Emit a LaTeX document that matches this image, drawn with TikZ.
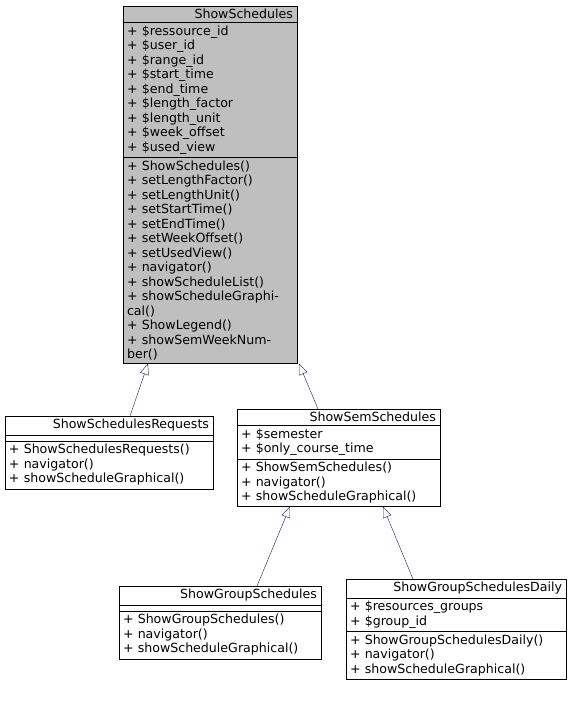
\documentclass[tikz,border=0pt]{standalone}
\usepackage{fontspec}
\setmainfont{DejaVu Sans}
\usetikzlibrary{shapes.multipart,arrows.meta}
\definecolor{umlgray}{HTML}{BFBFBF}
\definecolor{edgeblue}{HTML}{191970}
\newcommand{\clsname}[1]{\hspace*{\fill}#1\hspace*{\fill}}

\begin{document}
\begin{tikzpicture}%
  [x=1pt,y=-1pt,
   cls/.style=
    {draw,rectangle split,rectangle split parts=3,align=left,
     inner xsep=4pt,inner ysep=3pt,font=\fontsize{12.6}{14.5}\selectfont},
   base/.style={cls,rectangle split part fill={umlgray,umlgray,umlgray}},
   inherit/.style={edgeblue,-{Triangle[open,length=11pt,width=9pt]}}
  ]
  \useasboundingbox (0,0) rectangle (572,705);
  \node[base,text width=166pt,anchor=north] (sched) at (210,6)
    {\clsname{ShowSchedules}
     \nodepart{two}+ \$ressource\_id\\+ \$user\_id\\+ \$range\_id\\+ \$start\_time\\
     + \$end\_time\\+ \$length\_factor\\+ \$length\_unit\\+ \$week\_offset\\+ \$used\_view
     \nodepart{three}+ ShowSchedules()\\+ setLengthFactor()\\+ setLengthUnit()\\
     + setStartTime()\\+ setEndTime()\\+ setWeekOffset()\\+ setUsedView()\\
     + navigator()\\+ showScheduleList()\\+ showScheduleGraphical()\\
     + ShowLegend()\\+ showSemWeekNumber()};
  \node[cls,text width=200pt,anchor=north] (req) at (109,416)
    {\clsname{ShowSchedulesRequests}
     \nodepart{two}~
     \nodepart{three}+ ShowSchedulesRequests()\\+ navigator()\\+ showScheduleGraphical()};
  \node[cls,text width=195pt,anchor=north] (sem) at (338.5,409)
    {\clsname{ShowSemSchedules}
     \nodepart{two}+ \$semester\\+ \$only\_course\_time
     \nodepart{three}+ ShowSemSchedules()\\+ navigator()\\+ showScheduleGraphical()};
  \node[cls,text width=194pt,anchor=north] (group) at (220,586)
    {\clsname{ShowGroupSchedules}
     \nodepart{two}~
     \nodepart{three}+ ShowGroupSchedules()\\+ navigator()\\+ showScheduleGraphical()};
  \node[cls,text width=212pt,anchor=north] (daily) at (456,579)
    {\clsname{ShowGroupSchedulesDaily}
     \nodepart{two}+ \$resources\_groups\\+ \$group\_id
     \nodepart{three}+ ShowGroupSchedulesDaily()\\+ navigator()\\+ showScheduleGraphical()};
  \draw[inherit] (req.north -| 130,0) -- (sched.south -| 148,0);
  \draw[inherit] (sem.north -| 318,0) -- (sched.south -| 299,0);
  \draw[inherit] (group.north -| 257,0) -- (sem.south -| 290,0);
  \draw[inherit] (daily.north -| 413,0) -- (sem.south -| 383,0);
\end{tikzpicture}
\end{document}
